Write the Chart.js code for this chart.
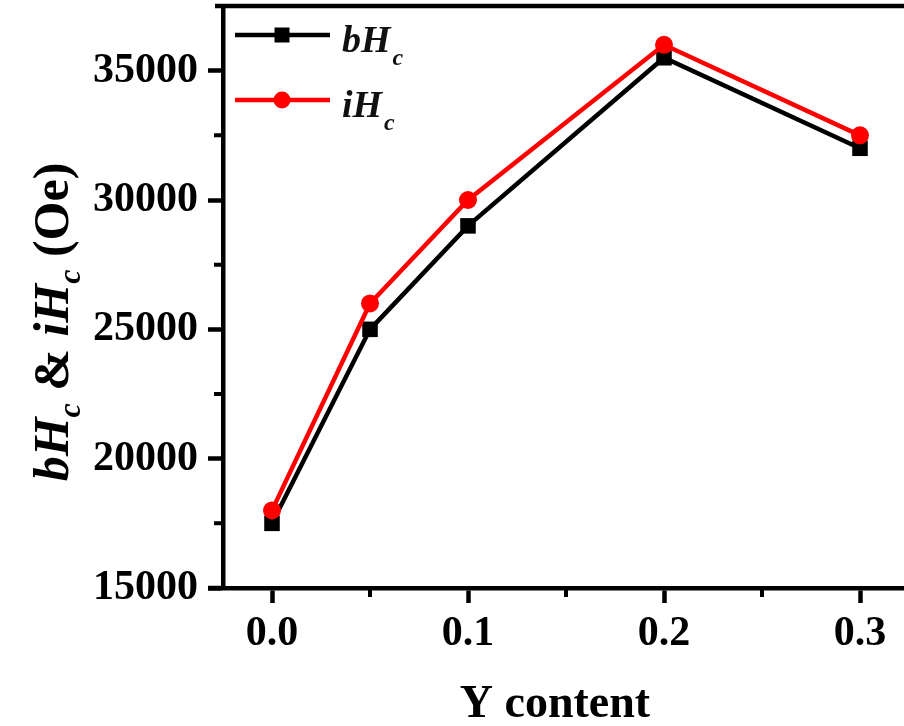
<!DOCTYPE html>
<html lang="en">
<head>
    <meta charset="UTF-8">
    <title>Coercivity vs Y content</title>
    <script src="https://cdn.jsdelivr.net/npm/chart.js"></script>
    <style>
        html, body { margin: 0; padding: 0; background: #fff; overflow: hidden; }
        #chart { display: block; }
    </style>
</head>
<body>
<canvas id="chart" width="909" height="726"></canvas>

<script>
// Y content on x, coercivity (Oe) on y
const yContent = [0, 0.05, 0.1, 0.2, 0.3];
const bHc = [17500, 25000, 29000, 35500, 32000];
const iHc = [18000, 26000, 30000, 36000, 32500];

const xMajor = [0, 0.1, 0.2, 0.3];
const xMinor = [0.05, 0.15, 0.25];
const yMajor = [15000, 20000, 25000, 30000, 35000];
const yMinor = [17500, 22500, 27500, 32500];

const SERIF = '"Liberation Serif", "DejaVu Serif", serif';

// draw a row of text pieces with their own fonts, centred on (x, y)
function drawRuns(ctx, runs, x, y) {
    let total = 0;
    runs.forEach(r => { ctx.font = r.font; r.w = ctx.measureText(r.text).width; total += r.w + (r.gap || 0); });
    let cx = x - total / 2;
    runs.forEach(r => {
        ctx.font = r.font;
        ctx.fillText(r.text, cx, y + (r.dy || 0));
        cx += r.w + (r.gap || 0);
    });
}

const framePlugin = {
    id: 'frame',
    afterDraw(chart) {
        const ctx = chart.ctx;
        const area = chart.chartArea;
        const xs = chart.scales.x, ys = chart.scales.y;
        ctx.save();
        ctx.strokeStyle = '#000';
        ctx.lineCap = 'butt';

        // top frame line and the small overhang of the bottom axis
        ctx.lineWidth = 4.5;
        ctx.beginPath();
        ctx.moveTo(area.left - 8, area.top);
        ctx.lineTo(chart.width, area.top);
        ctx.moveTo(area.left - 15, area.bottom);
        ctx.lineTo(area.left, area.bottom);
        ctx.stroke();

        // minor ticks
        ctx.lineWidth = 4;
        ctx.beginPath();
        xMinor.forEach(v => {
            const px = xs.getPixelForValue(v);
            ctx.moveTo(px, area.bottom);
            ctx.lineTo(px, area.bottom + 9);
        });
        yMinor.forEach(v => {
            const py = ys.getPixelForValue(v);
            ctx.moveTo(area.left, py);
            ctx.lineTo(area.left - 9, py);
        });
        ctx.stroke();

        // legend inside the plot
        const lx = area.left + 12, lx2 = area.left + 107, mx = area.left + 59;
        const rows = [
            { y: area.top + 29, color: '#000', shape: 'rect', label: 'bH' },
            { y: area.top + 94, color: '#f00', shape: 'circle', label: 'iH' }
        ];
        rows.forEach(r => {
            ctx.strokeStyle = r.color;
            ctx.fillStyle = r.color;
            ctx.lineWidth = 4.5;
            ctx.beginPath();
            ctx.moveTo(lx, r.y);
            ctx.lineTo(lx2, r.y);
            ctx.stroke();
            ctx.beginPath();
            if (r.shape === 'rect') ctx.rect(mx - 7.5, r.y - 7.5, 15, 15);
            else ctx.arc(mx, r.y, 8.5, 0, Math.PI * 2);
            ctx.fill();
            ctx.fillStyle = '#111';
            ctx.textAlign = 'left';
            ctx.textBaseline = 'alphabetic';
            ctx.font = 'italic bold 38px ' + SERIF;
            ctx.fillText(r.label, area.left + 119, r.y + 17);
            const w = ctx.measureText(r.label).width;
            ctx.font = 'italic bold 24px ' + SERIF;
            ctx.fillText('c', area.left + 121 + w, r.y + 30);
        });

        // axis titles
        ctx.fillStyle = '#000';
        ctx.textAlign = 'left';
        ctx.textBaseline = 'alphabetic';
        const big = 'bold 46px ' + SERIF;
        drawRuns(ctx, [{ text: 'Y content', font: big }], 555, 717);

        const yBig = 'bold 50px ' + SERIF;
        const yBigIt = 'italic bold 50px ' + SERIF;
        const ySub = 'italic bold 32px ' + SERIF;
        ctx.translate(68, 322);
        ctx.rotate(-Math.PI / 2);
        drawRuns(ctx, [
            { text: 'bH', font: yBigIt },
            { text: 'c', font: ySub, dy: 12 },
            { text: ' & ', font: yBig },
            { text: 'iH', font: yBigIt },
            { text: 'c', font: ySub, dy: 12 },
            { text: ' (Oe)', font: yBig }
        ], 0, 0);
        ctx.restore();
    }
};

const tickFont = { family: SERIF, weight: 'bold', size: 42 };

new Chart(document.getElementById('chart'), {
    type: 'line',
    data: {
        datasets: [
            {
                label: 'bHc',
                data: yContent.map((x, i) => ({ x: x, y: bHc[i] })),
                borderColor: '#000',
                backgroundColor: '#000',
                borderWidth: 4.5,
                pointStyle: 'rect',
                pointRadius: 11,
                pointBorderWidth: 0,
                tension: 0,
                order: 2
            },
            {
                label: 'iHc',
                data: yContent.map((x, i) => ({ x: x, y: iHc[i] })),
                borderColor: '#f00',
                backgroundColor: '#f00',
                borderWidth: 4.5,
                pointStyle: 'circle',
                pointRadius: 9,
                pointBorderWidth: 0,
                tension: 0,
                order: 1
            }
        ]
    },
    options: {
        responsive: false,
        animation: false,
        layout: { autoPadding: false, padding: { top: 6, left: 0, right: 0, bottom: 0 } },
        plugins: {
            legend: { display: false },
            tooltip: { enabled: false }
        },
        scales: {
            x: {
                type: 'linear',
                min: -0.025,
                max: 0.325,
                afterBuildTicks: s => { s.ticks = xMajor.map(v => ({ value: v })); },
                afterFit: s => { s.height = 138; s.paddingLeft = 0; s.paddingRight = 0; },
                grid: { drawOnChartArea: false, tickLength: 15, tickWidth: 4.5, tickColor: '#000' },
                border: { width: 4.5, color: '#000' },
                ticks: {
                    color: '#000',
                    font: tickFont,
                    padding: 6,
                    maxRotation: 0,
                    autoSkip: false,
                    callback: v => Number(v).toFixed(1)
                }
            },
            y: {
                min: 15000,
                max: 37500,
                afterBuildTicks: s => { s.ticks = yMajor.map(v => ({ value: v })); },
                afterFit: s => { s.width = 223; s.paddingTop = 0; s.paddingBottom = 0; },
                grid: { drawOnChartArea: false, tickLength: 15, tickWidth: 4.5, tickColor: '#000' },
                border: { width: 4.5, color: '#000' },
                ticks: {
                    color: '#000',
                    font: tickFont,
                    padding: 10,
                    autoSkip: false,
                    callback: v => String(v)
                }
            }
        }
    },
    plugins: [framePlugin]
});
</script>
</body>
</html>
